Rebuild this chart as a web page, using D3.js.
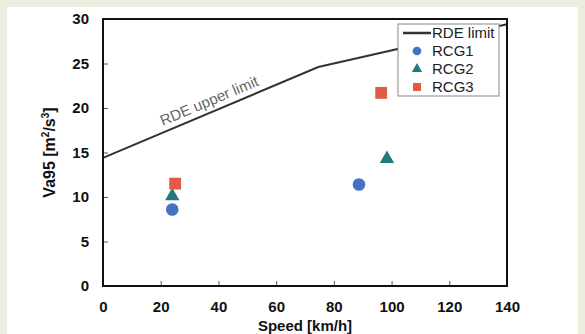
<!DOCTYPE html>
<html>
<head>
<meta charset="utf-8">
<script src="https://cdn.jsdelivr.net/npm/d3@7"></script>
<style>
  body { margin: 0; background: #e9eedf; }
  svg { display: block; }
</style>
</head>
<body>
<div id="chart"></div>
<script>
var width = 585,
    height = 334;

// data
var xTicks = [0, 20, 40, 60, 80, 100, 120, 140];
var yTicks = [0, 5, 10, 15, 20, 25, 30];
var rdeLimit = [[0, 14.4], [74.6, 24.6], [140, 29.4]];
var rcg1 = [[24, 8.6], [88.7, 11.4]];
var rcg2 = [[24, 10.1], [98.4, 14.3]];
var rcg3 = [[25, 11.5], [96.4, 21.7]];
var seriesNames = ['RDE limit', 'RCG1', 'RCG2', 'RCG3'];

var colors = {
    line: '#333333',
    RCG1: '#4472c4',
    RCG2: '#217a80',
    RCG3: '#e05a46'
};

var svg = d3.select('#chart').append('svg')
    .attr('width', width)
    .attr('height', height);

// white panel
svg.append('rect')
    .attr('x', 7).attr('y', 7)
    .attr('width', 571).attr('height', height)
    .attr('fill', '#ffffff');

var x = d3.scaleLinear().domain([0, 140]).range([103, 507]);
var y = d3.scaleLinear().domain([0, 30]).range([286, 19]);

var tickFont = 'Liberation Sans, Arial, sans-serif';

// x axis, ticks inward
var xAxis = d3.axisBottom(x)
    .tickValues(xTicks)
    .tickSize(-5)
    .tickPadding(15);

svg.append('g')
    .attr('transform', 'translate(0,' + y(0) + ')')
    .call(xAxis)
    .call(function(g) {
        g.select('.domain').remove();
        g.selectAll('.tick line').attr('stroke', '#555');
        g.selectAll('.tick text')
            .attr('font-family', tickFont)
            .attr('font-size', '15px')
            .attr('font-weight', 'bold')
            .attr('fill', '#111');
    });

var yAxis = d3.axisLeft(y)
    .tickValues(yTicks)
    .tickSize(-5)
    .tickPadding(14);

svg.append('g')
    .attr('transform', 'translate(' + x(0) + ',0)')
    .call(yAxis)
    .call(function(g) {
        g.select('.domain').remove();
        g.selectAll('.tick line').attr('stroke', '#555');
        g.selectAll('.tick text')
            .attr('font-family', tickFont)
            .attr('font-size', '15px')
            .attr('font-weight', 'bold')
            .attr('fill', '#111');
    });

// RDE limit line
var line = d3.line()
    .x(function(d) { return x(d[0]); })
    .y(function(d) { return y(d[1]); });

svg.append('path')
    .datum(rdeLimit)
    .attr('d', line)
    .attr('fill', 'none')
    .attr('stroke', colors.line)
    .attr('stroke-width', 2);

// label along the line
var ang = Math.atan2(y(rdeLimit[1][1]) - y(rdeLimit[0][1]), x(rdeLimit[1][0]) - x(rdeLimit[0][0])) * 180 / Math.PI;
svg.append('text')
    .attr('transform', 'translate(' + x(37.5) + ',' + (y(19.6) - 6) + ') rotate(' + ang + ')')
    .attr('text-anchor', 'middle')
    .attr('font-family', tickFont)
    .attr('font-size', '15px')
    .attr('fill', '#666')
    .text('RDE upper limit');

// markers
var sym = {
    RCG1: d3.symbol().type(d3.symbolCircle).size(125),
    RCG2: d3.symbol().type(d3.symbolTriangle).size(90),
    RCG3: d3.symbol().type(d3.symbolSquare).size(140)
};

function drawPoints(data, name) {
    svg.selectAll('.pt-' + name)
        .data(data)
        .enter().append('path')
        .attr('class', 'pt-' + name)
        .attr('transform', function(d) { return 'translate(' + x(d[0]) + ',' + y(d[1]) + ')'; })
        .attr('d', sym[name]())
        .attr('fill', colors[name]);
}

drawPoints(rcg1, 'RCG1');
drawPoints(rcg2, 'RCG2');
drawPoints(rcg3, 'RCG3');

// frame
svg.append('rect')
    .attr('x', x(0)).attr('y', y(30))
    .attr('width', x(140) - x(0)).attr('height', y(0) - y(30))
    .attr('fill', 'none')
    .attr('stroke', '#111')
    .attr('stroke-width', 2);

// legend
var legend = svg.append('g').attr('transform', 'translate(398,24)');

legend.append('rect')
    .attr('width', 101).attr('height', 72)
    .attr('fill', '#fff')
    .attr('stroke', '#888')
    .attr('stroke-width', 1);

var small = {
    RCG1: d3.symbol().type(d3.symbolCircle).size(60),
    RCG2: d3.symbol().type(d3.symbolTriangle).size(45),
    RCG3: d3.symbol().type(d3.symbolSquare).size(64)
};

var rows = legend.selectAll('.row')
    .data(seriesNames)
    .enter().append('g')
    .attr('class', 'row')
    .attr('transform', function(d, i) { return 'translate(0,' + (9 + i * 18) + ')'; });

rows.each(function(d) {
    var g = d3.select(this);
    if (d == 'RDE limit') {
        g.append('line')
            .attr('x1', 5).attr('x2', 33)
            .attr('stroke', colors.line)
            .attr('stroke-width', 2.5);
    } else {
        g.append('path')
            .attr('transform', 'translate(19,0)')
            .attr('d', small[d]())
            .attr('fill', colors[d]);
    }
    g.append('text')
        .attr('x', 34)
        .attr('dy', '0.36em')
        .attr('font-family', tickFont)
        .attr('font-size', '15px')
        .attr('fill', '#222')
        .text(d);
});

// axis titles
svg.append('text')
    .attr('x', (x(0) + x(140)) / 2)
    .attr('y', 331)
    .attr('text-anchor', 'middle')
    .attr('font-family', tickFont)
    .attr('font-size', '15px')
    .attr('font-weight', 'bold')
    .attr('fill', '#111')
    .text('Speed [km/h]');

var yTitle = svg.append('text')
    .attr('transform', 'translate(55,' + ((y(0) + y(30)) / 2) + ') rotate(-90)')
    .attr('text-anchor', 'middle')
    .attr('font-family', tickFont)
    .attr('font-size', '16px')
    .attr('font-weight', 'bold')
    .attr('fill', '#111');
yTitle.append('tspan').text('Va95 [m');
yTitle.append('tspan').attr('font-size', '10px').attr('dy', '-6').text('2');
yTitle.append('tspan').attr('dy', '6').text('/s');
yTitle.append('tspan').attr('font-size', '10px').attr('dy', '-6').text('3');
yTitle.append('tspan').attr('dy', '6').text(']');
</script>
</body>
</html>
